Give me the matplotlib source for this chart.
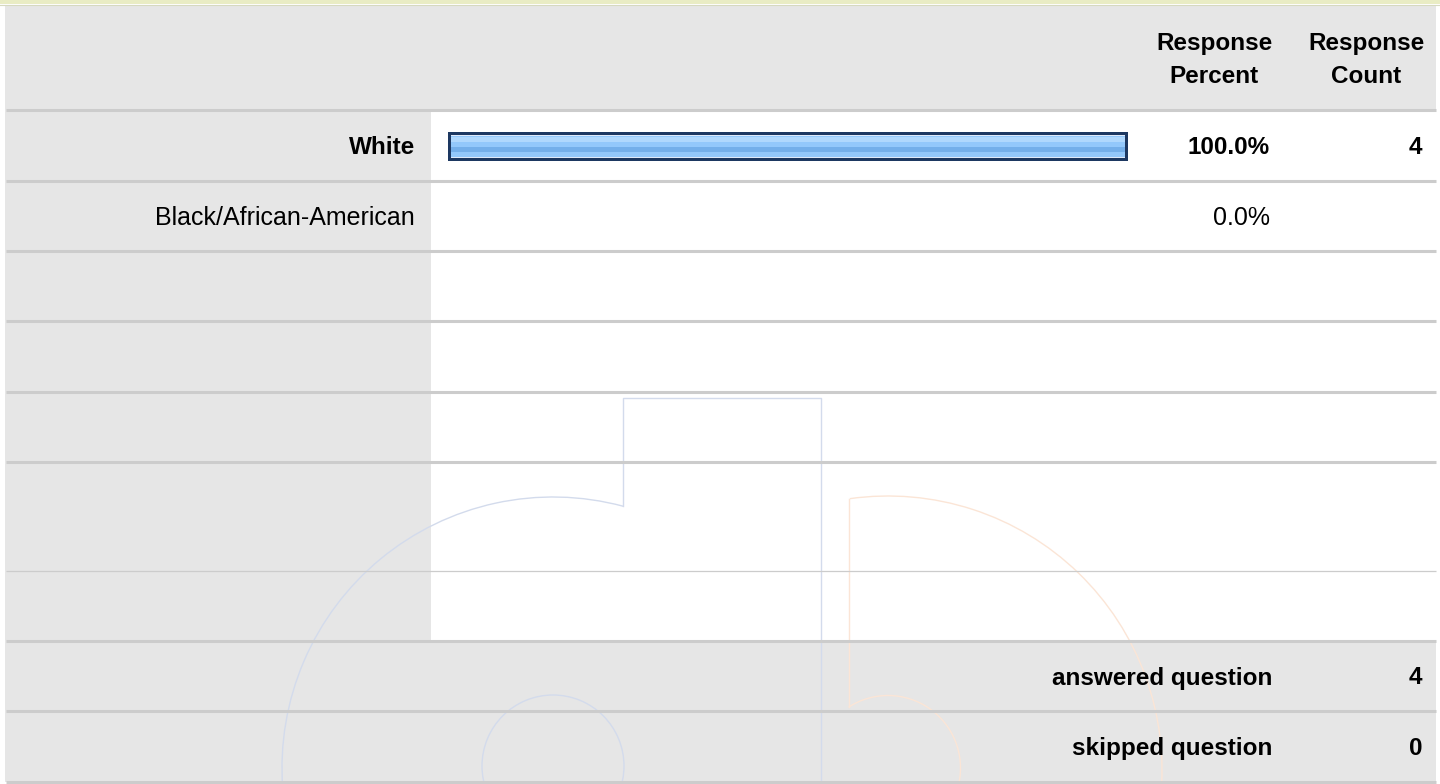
import numpy as np
import matplotlib
matplotlib.use("Agg")
import matplotlib.pyplot as plt
from matplotlib.patches import Arc, Rectangle

plt.rcParams['font.family'] = ['Liberation Sans', 'DejaVu Sans']

# data
categories = ["White", "Black/African-American"]
percents = [100.0, 0.0]
counts = [4, None]
answered = 4
skipped = 0
header_cols = ["Response\nPercent", "Response\nCount"]

W, H = 1440, 784
fig = plt.figure(figsize=(W / 100, H / 100), dpi=100)
ax = fig.add_axes([0, 0, 1, 1])
ax.set_xlim(0, W)
ax.set_ylim(H, 0)
ax.axis("off")

gray = "#e6e6e6"
line_c = "#cccccc"
x0, x1 = 5, 1436
label_x = 431

# row borders (pixels from top)
borders = [110, 181, 251, 321, 392, 462, 571, 641, 711, 782]

# top strip + header
ax.add_patch(Rectangle((0, 0), W, 4, color="#e9ecc4", lw=0))
ax.plot([0, W], [4.5, 4.5], color="#d6d9c0", lw=0.8)
ax.add_patch(Rectangle((x0, 5), x1 - x0, borders[0] - 5, color=gray, lw=0))
# label column of body rows
ax.add_patch(Rectangle((x0, borders[0]), label_x - x0, borders[7] - borders[0], color=gray, lw=0))
# footer rows
ax.add_patch(Rectangle((x0, borders[7]), x1 - x0, borders[-1] - borders[7], color=gray, lw=0))

# faint watermark shapes
blue_w = "#d3dbec"
orng_w = "#fbe5d6"
ax.add_patch(Arc((553, 768), 542, 542, theta1=176, theta2=285, color=blue_w, lw=1))
ax.add_patch(Arc((553, 766), 142, 142, theta1=0, theta2=360, color=blue_w, lw=1))
ax.plot([623, 623, 821, 821], [506, 398, 398, 784], color=blue_w, lw=1)
ax.add_patch(Arc((888, 770), 548, 548, theta1=262, theta2=366, color=orng_w, lw=1))
ax.add_patch(Arc((888, 768), 145, 145, theta1=237, theta2=372, color=orng_w, lw=1))
ax.plot([849, 849], [499, 707], color=orng_w, lw=1)

# separators
for i, b in enumerate(borders):
    lw = 0.9 if b == 571 else 2.2
    ax.plot([x0 + 1, x1], [b, b], color=line_c, lw=lw, solid_capstyle="butt")

fs = 17.5
fs_reg = 18
# header
ax.text(1214, 60, header_cols[0], ha="center", va="center", fontsize=fs,
        fontweight="bold", linespacing=1.6)
ax.text(1366, 60, header_cols[1], ha="center", va="center", fontsize=fs,
        fontweight="bold", linespacing=1.6)

# body rows
for i, cat in enumerate(categories):
    yc = (borders[i] + borders[i + 1]) / 2 + 2
    wt = "bold" if percents[i] > 0 else "normal"
    size = fs if percents[i] > 0 else fs_reg
    ax.text(415, yc, cat, ha="right", va="center", fontsize=size, fontweight=wt)
    ax.text(1270, yc, f"{percents[i]:.1f}%", ha="right", va="center", fontsize=size,
            fontweight=wt)
    if counts[i] is not None:
        ax.text(1422, yc, str(counts[i]), ha="right", va="center", fontsize=size,
                fontweight=wt)

# footer
for j, (lab, val) in enumerate([("answered question", answered), ("skipped question", skipped)]):
    yc = (borders[7 + j] + borders[8 + j]) / 2 + 2
    ax.text(1272, yc, lab, ha="right", va="center", fontsize=fs, fontweight="bold")
    ax.text(1422, yc, str(val), ha="right", va="center", fontsize=fs, fontweight="bold")

# bar column: own axes, 0-100 percent scale
bx0, bx1 = 448, 1128
bax = fig.add_axes([bx0 / W, 0, (bx1 - bx0) / W, 1])
bax.set_xlim(0, 100)
bax.set_ylim(H, 0)
bax.axis("off")
yc = [(borders[i] + borders[i + 1]) / 2 + 1 for i in range(len(categories))]
inner = [p * 0.992 for p in percents]
bax.barh(yc, percents, height=29, color="#1d3861", lw=0, align="center")
bax.barh(yc, inner, left=0.4, height=23, color="#dfeafa", lw=0)
bax.barh(yc, inner, left=0.4, height=21, color="#93c8fb", lw=0)
bax.barh([y - 7 for y in yc], inner, left=0.4, height=5, color="#b0d8fd", lw=0)
bax.barh([y + 3 for y in yc], inner, left=0.4, height=5, color="#74afea", lw=0)

fig.savefig("out.png", dpi=100, facecolor="white")
